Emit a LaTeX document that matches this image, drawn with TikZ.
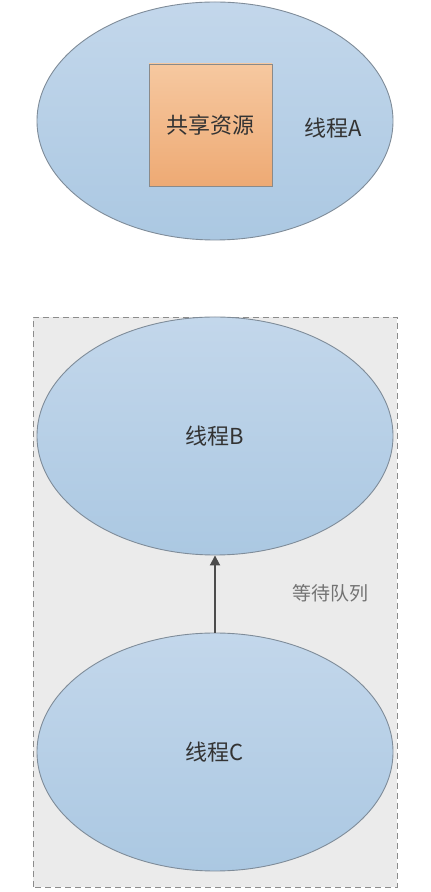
\documentclass[tikz,border=0pt]{standalone}
\usepackage{fontspec}
\setmainfont{Noto Sans CJK SC}
\usetikzlibrary{shapes.geometric,arrows.meta}
\definecolor{ellTop}{HTML}{C3D7EB}
\definecolor{ellBot}{HTML}{ABC8E2}
\definecolor{ellLine}{HTML}{7F8C99}
\definecolor{boxTop}{HTML}{F6C8A0}
\definecolor{boxBot}{HTML}{EEAA74}
\definecolor{boxLine}{HTML}{8A8A8A}
\definecolor{qFill}{HTML}{EBEBEB}
\definecolor{qLine}{HTML}{8C8C8C}
\definecolor{txt}{HTML}{333333}
\tikzset{
  thread/.style={ellipse, draw=ellLine, line width=0.9pt, top color=ellTop, bottom color=ellBot,
    minimum width=356pt, minimum height=238pt, inner sep=0pt, text=txt, font=\fontsize{22}{26}\selectfont},
  resbox/.style={rectangle, draw=boxLine, line width=0.9pt, top color=boxTop, bottom color=boxBot,
    minimum width=123pt, minimum height=122pt, inner sep=0pt, text=txt, font=\fontsize{22}{26}\selectfont},
  lbl/.style={text=txt, inner sep=0pt, font=\fontsize{22}{26}\selectfont},
  qlbl/.style={text=black!55, inner sep=0pt, font=\fontsize{19}{23}\selectfont},
  queue/.style={draw=qLine, fill=qFill, dashed, dash pattern=on 6pt off 4pt, line width=0.9pt},
  link/.style={draw=black!70, line width=1.8pt, -{Triangle[length=10pt,width=10pt]}}
}
\begin{document}
\begin{tikzpicture}[x=1pt,y=1pt]
\useasboundingbox (0,0) rectangle (431,892);
\fill[white] (0,0) rectangle (431,892);
% thread A
\node[thread] (ellA) at (215,771) {};
\node[resbox] (res) at (210.5,767) {共享资源};
\node[lbl] (lblA) at (333,764) {线程A};
% waiting queue
\draw[queue] (33,5) rectangle (397,575);
\coordinate (qcorner) at (397,575);
\node[thread] (ellB) at (215,456) {线程B};
\node[thread] (ellC) at (215,140) {线程C};
\draw[link] (ellC.north) -- (ellB.south);
\node[qlbl] (qlabel) at (330,299) {等待队列};
\end{tikzpicture}
\end{document}
